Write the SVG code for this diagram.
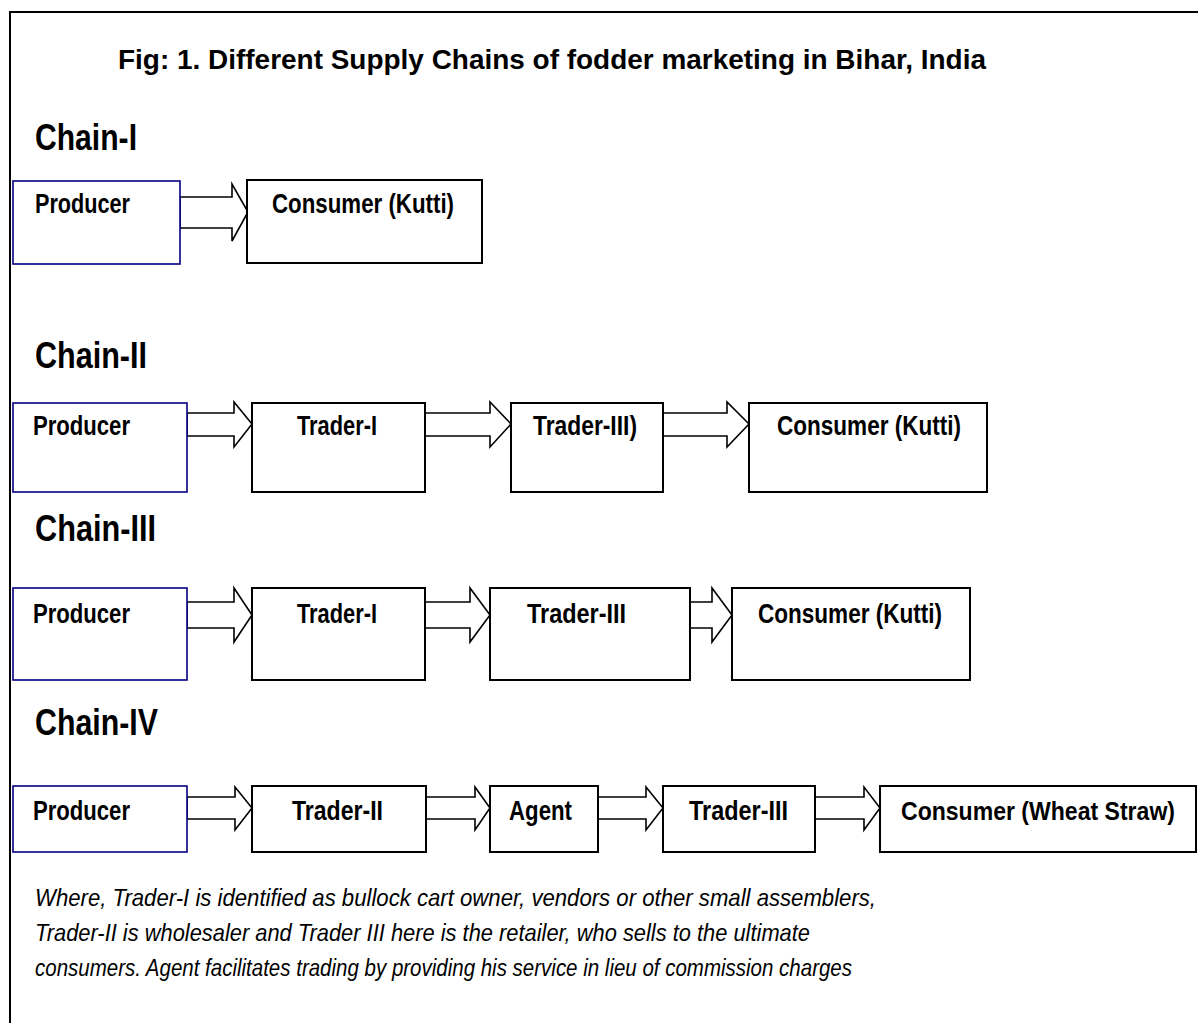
<svg xmlns="http://www.w3.org/2000/svg" width="1198" height="1023" viewBox="0 0 1198 1023">
<style>
.bg{fill:#fff}
.frame{fill:none;stroke:#000;stroke-width:2}
.box{fill:#fff;stroke:#000;stroke-width:2}
.pbox{fill:#fff;stroke:#000080;stroke-width:1.6}
.arr{fill:#fff;stroke:#000;stroke-width:1.6;stroke-linejoin:miter}
.title{font-family:"Liberation Sans",Arial,sans-serif;font-weight:bold;font-size:28px;fill:#000}
.chain{font-family:"Liberation Sans Narrow","Liberation Sans",Arial,sans-serif;font-weight:bold;font-size:37px;fill:#000}
.lbl{font-family:"Liberation Sans Narrow","Liberation Sans",Arial,sans-serif;font-weight:bold;font-size:27px;fill:#000}
.note{font-family:"Liberation Sans Narrow","Liberation Sans",Arial,sans-serif;font-style:italic;font-size:24px;fill:#000}
</style>
<rect class="bg" x="0" y="0" width="1198" height="1023"/>
<path class="frame" d="M10,1023 V12 H1198"/>
<text class="title" x="118" y="69" textLength="868" lengthAdjust="spacingAndGlyphs">Fig: 1. Different Supply Chains of fodder marketing in Bihar, India</text>

<text class="chain" x="35" y="150" textLength="102" lengthAdjust="spacingAndGlyphs">Chain-I</text>
<text class="chain" x="35" y="368" textLength="112" lengthAdjust="spacingAndGlyphs">Chain-II</text>
<text class="chain" x="35" y="541" textLength="121" lengthAdjust="spacingAndGlyphs">Chain-III</text>
<text class="chain" x="35" y="735" textLength="123" lengthAdjust="spacingAndGlyphs">Chain-IV</text>

<g id="connectors">
<polygon class="arr" points="180,197 232,197 232,184 248,212 232,241 232,228 180,228"/>
<polygon class="arr" points="187,413 234,413 234,402 252,424 234,447 234,436 187,436"/>
<polygon class="arr" points="425,413 490,413 490,402 511,424 490,447 490,436 425,436"/>
<polygon class="arr" points="663,413 727,413 727,402 749,424 727,447 727,436 663,436"/>
<polygon class="arr" points="187,602 234,602 234,588 252,615 234,642 234,628 187,628"/>
<polygon class="arr" points="425,602 470,602 470,588 490,615 470,642 470,628 425,628"/>
<polygon class="arr" points="690,602 712,602 712,588 732,615 712,642 712,628 690,628"/>
<polygon class="arr" points="187,797 235,797 235,787 252,808 235,830 235,819 187,819"/>
<polygon class="arr" points="426,797 475,797 475,787 490,808 475,830 475,819 426,819"/>
<polygon class="arr" points="598,797 646,797 646,787 663,808 646,830 646,819 598,819"/>
<polygon class="arr" points="815,797 864,797 864,787 880,808 864,830 864,819 815,819"/>
</g>

<g id="c1-producer"><rect class="pbox" x="13" y="181" width="167" height="83"/><text class="lbl" x="35" y="213" textLength="95" lengthAdjust="spacingAndGlyphs">Producer</text></g>
<g id="c1-consumer"><rect class="box" x="247" y="180" width="235" height="83"/><text class="lbl" x="272" y="213" textLength="182" lengthAdjust="spacingAndGlyphs">Consumer (Kutti)</text></g>

<g id="c2-producer"><rect class="pbox" x="13" y="403" width="174" height="89"/><text class="lbl" x="33" y="435" textLength="97" lengthAdjust="spacingAndGlyphs">Producer</text></g>
<g id="c2-trader1"><rect class="box" x="252" y="403" width="173" height="89"/><text class="lbl" x="297" y="435" textLength="80" lengthAdjust="spacingAndGlyphs">Trader-I</text></g>
<g id="c2-trader3"><rect class="box" x="511" y="403" width="152" height="89"/><text class="lbl" x="533" y="435" textLength="104" lengthAdjust="spacingAndGlyphs">Trader-III)</text></g>
<g id="c2-consumer"><rect class="box" x="749" y="403" width="238" height="89"/><text class="lbl" x="777" y="435" textLength="184" lengthAdjust="spacingAndGlyphs">Consumer (Kutti)</text></g>

<g id="c3-producer"><rect class="pbox" x="13" y="588" width="174" height="92"/><text class="lbl" x="33" y="623" textLength="97" lengthAdjust="spacingAndGlyphs">Producer</text></g>
<g id="c3-trader1"><rect class="box" x="252" y="588" width="173" height="92"/><text class="lbl" x="297" y="623" textLength="80" lengthAdjust="spacingAndGlyphs">Trader-I</text></g>
<g id="c3-trader3"><rect class="box" x="490" y="588" width="200" height="92"/><text class="lbl" x="527" y="623" textLength="99" lengthAdjust="spacingAndGlyphs">Trader-III</text></g>
<g id="c3-consumer"><rect class="box" x="732" y="588" width="238" height="92"/><text class="lbl" x="758" y="623" textLength="184" lengthAdjust="spacingAndGlyphs">Consumer (Kutti)</text></g>

<g id="c4-producer"><rect class="pbox" x="13" y="786" width="174" height="66"/><text class="lbl" x="33" y="820" textLength="97" lengthAdjust="spacingAndGlyphs">Producer</text></g>
<g id="c4-trader2"><rect class="box" x="252" y="786" width="174" height="66"/><text class="lbl" x="292" y="820" textLength="91" lengthAdjust="spacingAndGlyphs">Trader-II</text></g>
<g id="c4-agent"><rect class="box" x="490" y="786" width="108" height="66"/><text class="lbl" x="509" y="820" textLength="63" lengthAdjust="spacingAndGlyphs">Agent</text></g>
<g id="c4-trader3"><rect class="box" x="663" y="786" width="152" height="66"/><text class="lbl" x="689" y="820" textLength="99" lengthAdjust="spacingAndGlyphs">Trader-III</text></g>
<g id="c4-consumer"><rect class="box" x="880" y="786" width="316" height="66"/><text class="lbl" x="901" y="820" style="font-size:25px" textLength="274" lengthAdjust="spacingAndGlyphs">Consumer (Wheat Straw)</text></g>

<text class="note" x="35" y="906" textLength="841" lengthAdjust="spacingAndGlyphs">Where, Trader-I is identified as bullock cart owner, vendors or other small assemblers,</text>
<text class="note" x="35" y="941" textLength="775" lengthAdjust="spacingAndGlyphs">Trader-II is wholesaler and Trader III here is the retailer, who sells to the ultimate</text>
<text class="note" x="35" y="976" textLength="817" lengthAdjust="spacingAndGlyphs">consumers. Agent facilitates trading by providing his service in lieu of commission charges</text>
</svg>
